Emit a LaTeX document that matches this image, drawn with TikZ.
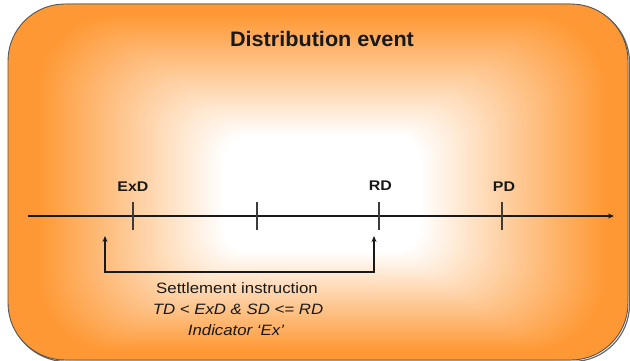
\documentclass[tikz,border=0pt]{standalone}
\usepackage{fontspec}
\setmainfont{Liberation Sans}
\usepackage{graphicx}
\usetikzlibrary{arrows.meta}

\definecolor{orng}{RGB}{254,152,52}
\definecolor{ink}{RGB}{25,25,25}
\definecolor{rim}{RGB}{85,85,85}

% slightly widened lettering
\newcommand\stretchtxt[2]{\scalebox{#1}[1]{#2}}

\begin{document}
\begin{tikzpicture}[x=1pt,y=-1pt,
    title/.style={anchor=base,inner sep=0pt,text=ink,font=\fontsize{21}{25}\selectfont\bfseries},
    datelabel/.style={anchor=base,inner sep=0pt,text=ink,font=\fontsize{14}{17}\selectfont\bfseries},
    note/.style={anchor=base,inner sep=0pt,text=ink,font=\fontsize{15}{18}\selectfont},
    axis/.style={line width=1.6pt,draw=ink,-{Stealth[length=6pt,width=5pt]}},
    tick/.style={line width=1.2pt,draw=ink!85},
    bracket/.style={line width=1.3pt,draw=ink,{Stealth[length=6pt,width=5pt]}-{Stealth[length=6pt,width=5pt]}}]
  \useasboundingbox (0,0) rectangle (630,361);

  % soft shadow along the lower right of the panel
  \draw[black!60,line width=1.2pt,rounded corners=57pt] (9.5,5.5) rectangle (629.5,361.5);

  % rounded panel: soft glow, white in the middle, orange at the rim
  \begin{scope}
    \clip[rounded corners=57pt] (8,4) rectangle (628,360);
    \fill[orng] (0,0) rectangle (630,361);
    \foreach \i in {0,...,110}{
      \pgfmathsetmacro\glowt{1.05-0.0075*\i}
      \pgfmathsetmacro\glowp{max(0,min(100,100*(\glowt-0.33)/0.62))}
      \pgfmathsetmacro\glowr{80*\glowt}
      \fill[orng!\glowp!white,rounded corners=\glowr pt]
        ({322-300*\glowt},{200-196*\glowt}) rectangle ({322+300*\glowt},{200+160*\glowt});
    }
  \end{scope}
  \draw[rim,line width=0.9pt,rounded corners=57pt] (8,4) rectangle (628,360);

  % heading
  \node[title] (head) at (322,47) {\stretchtxt{1.03}{Distribution event}};

  % time axis
  \coordinate (axL) at (28,216);
  \coordinate (axR) at (614,216);
  \draw[axis] (axL) -- (axR);

  % date ticks
  \coordinate (exdT) at (133,202);  \coordinate (exdB) at (133,230);
  \coordinate (midT) at (257,202);  \coordinate (midB) at (257,230);
  \coordinate (rdT)  at (379,202);  \coordinate (rdB)  at (379,230);
  \coordinate (pdT)  at (502,202);  \coordinate (pdB)  at (502,230);
  \draw[tick] (exdT) -- (exdB);
  \draw[tick] (midT) -- (midB);
  \draw[tick] (rdT) -- (rdB);
  \draw[tick] (pdT) -- (pdB);

  % date labels
  \node[datelabel] (exd) at (133,191) {\stretchtxt{1.14}{ExD}};
  \node[datelabel] (rd)  at (380.5,190) {\stretchtxt{1.14}{RD}};
  \node[datelabel] (pd)  at (504,191) {\stretchtxt{1.14}{PD}};

  % settlement window bracket
  \coordinate (bL) at (105,236);
  \coordinate (bLd) at (105,272);
  \coordinate (bRd) at (374,272);
  \coordinate (bR) at (374,236);
  \draw[bracket] (bL) -- (bLd) -- (bRd) -- (bR);

  % bracket caption
  \node[note] (si)  at (237,293) {\stretchtxt{1.12}{Settlement instruction}};
  \node[note] (cnd) at (238,314) {\stretchtxt{1.12}{\itshape TD < ExD \& SD <= RD}};
  \node[note] (ind) at (236,335) {\stretchtxt{1.12}{\itshape Indicator ‘Ex’}};
\end{tikzpicture}
\end{document}
